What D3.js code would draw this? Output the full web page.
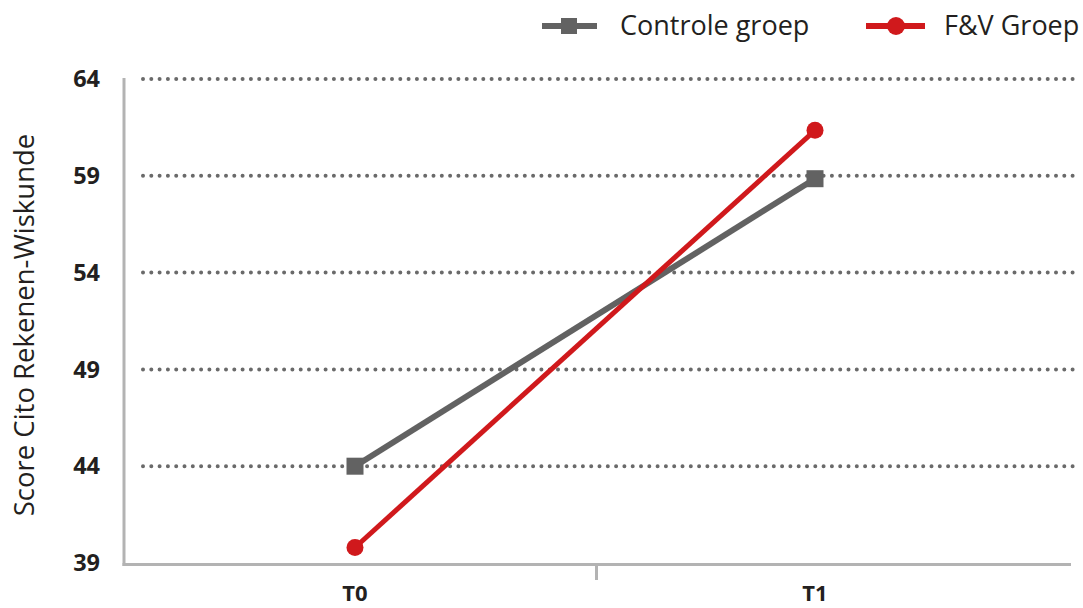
<!DOCTYPE html>
<html>
<head>
<meta charset="utf-8">
<script src="https://cdn.jsdelivr.net/npm/d3@7"></script>
<style>
  html, body { margin: 0; padding: 0; background: #fff; }
  svg { display: block; }
</style>
</head>
<body>
<svg id="chart" width="1083" height="608"></svg>
<script>
// Meetmomenten en gemiddelde scores per groep
const categories = ["T0", "T1"];
const controleScores = [44.0, 58.85];
const fvScores = [39.8, 61.35];
const yTicks = [39, 44, 49, 54, 59, 64];
const seriesNames = ["Controle groep", "F&V Groep"];
const yTitle = "Score Cito Rekenen-Wiskunde";

const svg = d3.select("#chart");
const font = "'Open Sans', 'Noto Sans', sans-serif";

const plot = { left: 124, right: 1071, top: 79, bottom: 563 };

const y = d3.scaleLinear().domain([39, 64]).range([plot.bottom, plot.top]);
const x = d3.scalePoint().domain(categories).range([355, 815]);

// Gestippelde hulplijnen
const grid = svg.append("g");
yTicks.filter(t => t > 39).forEach(t => {
  grid.append("line")
    .attr("x1", 143).attr("x2", 1076)
    .attr("y1", y(t)).attr("y2", y(t))
    .attr("stroke", "#6a6a6a")
    .attr("stroke-width", 4)
    .attr("stroke-linecap", "round")
    .attr("stroke-dasharray", "0 8.3");
});

// Assen
const axisColor = "#b3b3b3";
svg.append("line")
  .attr("x1", plot.left).attr("x2", plot.left)
  .attr("y1", 78).attr("y2", 566)
  .attr("stroke", axisColor).attr("stroke-width", 3);
svg.append("line")
  .attr("x1", plot.left - 1.5).attr("x2", plot.right)
  .attr("y1", 564.5).attr("y2", 564.5)
  .attr("stroke", axisColor).attr("stroke-width", 3);
svg.append("line")
  .attr("x1", (plot.left + plot.right) / 2 - 1).attr("x2", (plot.left + plot.right) / 2 - 1)
  .attr("y1", 564).attr("y2", 580)
  .attr("stroke", axisColor).attr("stroke-width", 3);

// Y-aslabels
svg.append("g").selectAll("text")
  .data(yTicks).join("text")
  .attr("x", 100)
  .attr("y", d => y(d))
  .attr("dy", "0.35em")
  .attr("text-anchor", "end")
  .attr("font-family", font)
  .attr("font-weight", "bold")
  .attr("font-size", 23.5)
  .attr("fill", "#231f20")
  .text(d => d);

// X-aslabels
svg.append("g").selectAll("text")
  .data(categories).join("text")
  .attr("x", d => x(d))
  .attr("y", 601)
  .attr("text-anchor", "middle")
  .attr("font-family", font)
  .attr("font-weight", "bold")
  .attr("font-size", 22)
  .attr("fill", "#231f20")
  .text(d => d);

// Astitel
svg.append("text")
  .attr("transform", "translate(34,325) rotate(-90)")
  .attr("text-anchor", "middle")
  .attr("font-family", font)
  .attr("font-size", 27.5)
  .attr("fill", "#231f20")
  .text(yTitle);

const grey = "#626262";
const red = "#d0191c";
const line = d3.line().x((d, i) => x(categories[i])).y(d => y(d));

// Controle groep
svg.append("path")
  .datum(controleScores)
  .attr("d", line)
  .attr("fill", "none")
  .attr("stroke", grey)
  .attr("stroke-width", 6);
svg.append("g").selectAll("rect")
  .data(controleScores).join("rect")
  .attr("x", (d, i) => x(categories[i]) - 8.5)
  .attr("y", d => y(d) - 8.5)
  .attr("width", 17).attr("height", 17)
  .attr("fill", grey);

// F&V Groep
svg.append("path")
  .datum(fvScores)
  .attr("d", line)
  .attr("fill", "none")
  .attr("stroke", red)
  .attr("stroke-width", 5);
svg.append("g").selectAll("circle")
  .data(fvScores).join("circle")
  .attr("cx", (d, i) => x(categories[i]))
  .attr("cy", d => y(d))
  .attr("r", 8.5)
  .attr("fill", red);

// Legenda
const legend = svg.append("g");
legend.append("line")
  .attr("x1", 542).attr("x2", 597).attr("y1", 26).attr("y2", 26)
  .attr("stroke", grey).attr("stroke-width", 6);
legend.append("rect")
  .attr("x", 561).attr("y", 18).attr("width", 16).attr("height", 16)
  .attr("fill", grey);
legend.append("text")
  .attr("x", 620).attr("y", 35)
  .attr("font-family", font).attr("font-size", 27)
  .attr("fill", "#231f20")
  .text(seriesNames[0]);

legend.append("line")
  .attr("x1", 866).attr("x2", 925).attr("y1", 26).attr("y2", 26)
  .attr("stroke", red).attr("stroke-width", 6);
legend.append("circle")
  .attr("cx", 896).attr("cy", 26).attr("r", 9)
  .attr("fill", red);
legend.append("text")
  .attr("x", 944).attr("y", 35)
  .attr("font-family", font).attr("font-size", 27)
  .attr("fill", "#231f20")
  .text(seriesNames[1]);
</script>
</body>
</html>
